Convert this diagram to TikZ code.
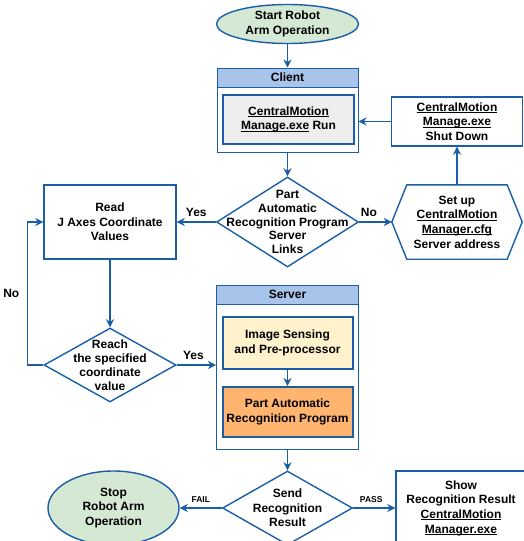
\documentclass[tikz,border=0pt]{standalone}
\usepackage{fontspec}
\setmainfont{Liberation Sans}
\usetikzlibrary{shapes.geometric,arrows.meta}
\definecolor{lineblue}{HTML}{1A5EA8}
\definecolor{hdrblue}{HTML}{A9C4EB}
\definecolor{startgreen}{HTML}{D5E8D4}
\definecolor{rungray}{HTML}{EEEEEE}
\definecolor{imgyellow}{HTML}{FFF2CC}
\definecolor{partorange}{HTML}{FFB570}
\newcommand{\ulin}[1]{\setbox0\hbox{#1}\rlap{\rule[-1.8pt]{\wd0}{0.8pt}}\box0\relax}
\tikzset{
 box/.style={draw=lineblue,line width=1.4pt,align=center,inner sep=0pt},
 inbox/.style={draw=lineblue,line width=2pt,align=center,inner sep=0pt},
 frame/.style={draw=lineblue,line width=1pt,inner sep=0pt},
 hdr/.style={draw=lineblue,line width=1pt,fill=hdrblue,inner sep=0pt},
 dia/.style={diamond,draw=lineblue,line width=1.4pt,inner sep=0pt},
 txt/.style={align=center,inner sep=0pt},
 arr/.style={draw=lineblue,line width=1.4pt,-{Stealth[length=8pt,width=8pt,inset=2.5pt]}},
 tiny/.style={font=\bfseries\fontsize{8.5}{9}\selectfont}
}
\begin{document}
\begin{tikzpicture}[x=1pt,y=-1pt,font=\bfseries\fontsize{12}{14.7}\selectfont]
\useasboundingbox (0,0) rectangle (524,541);

\node (start) at (287.5,24) [box,ellipse,fill=startgreen,minimum width=142pt,minimum height=39pt]{Start Robot\\Arm Operation};

\node (client) at (287.5,110) [frame,minimum width=141pt,minimum height=84pt]{};
\node (clienthd) at (287.5,77.5) [hdr,minimum width=141pt,minimum height=19pt]{Client};
\node (run) at (288.5,119.5) [inbox,fill=rungray,minimum width=131pt,minimum height=49pt]{\ulin{CentralMotion}\\\ulin{Manage.exe} Run};

\node (shut) at (457,121.5) [box,minimum width=131pt,minimum height=49pt]{\ulin{CentralMotion}\\\ulin{Manage.exe}\\Shut Down};

\node (q1) at (287.5,222) [dia,minimum width=142pt,minimum height=90pt]{};
\node (q1txt) at (q1) [txt,font=\bfseries\fontsize{12}{13.6}\selectfont]{Part\\Automatic\\Recognition Program\\Server\\Links};

\node (read) at (110,222) [box,minimum width=132pt,minimum height=74pt]{Read\\J Axes Coordinate\\Values};

\node (cfg) at (457,222) [txt,minimum width=130pt,minimum height=74pt]{Set up\\\ulin{CentralMotion}\\\ulin{Manager.cfg}\\Server address};
\draw[lineblue,line width=1.4pt] (cfg.west)--([xshift=15pt]cfg.north west)--([xshift=-15pt]cfg.north east)
 --(cfg.east)--([xshift=-15pt]cfg.south east)--([xshift=15pt]cfg.south west)--cycle;

\node (q2) at (110,365) [dia,minimum width=132pt,minimum height=74pt]{};
\node (q2txt) at (q2) [txt,font=\bfseries\fontsize{12}{14}\selectfont]{Reach\\the specified\\coordinate\\value};

\node (server) at (287.5,367) [frame,minimum width=142pt,minimum height=164pt]{};
\node (serverhd) at (287.5,294.5) [hdr,minimum width=142pt,minimum height=19pt]{Server};
\node (img) at (287.5,343) [inbox,fill=imgyellow,minimum width=130pt,minimum height=52pt]{Image Sensing\\and Pre-processor};
\node (part) at (287.5,412) [inbox,fill=partorange,minimum width=130pt,minimum height=50pt]{Part Automatic\\Recognition Program};

\node (q3) at (287.5,508) [dia,minimum width=130pt,minimum height=74pt]{};
\node (q3txt) at (q3) [txt]{Send\\Recognition\\Result};
\node (stop) at (113.5,508) [box,ellipse,fill=startgreen,minimum width=131pt,minimum height=74pt]{Stop\\Robot Arm\\Operation};
\node (show) at (461,508) [box,minimum width=130pt,minimum height=74pt]{Show\\Recognition Result\\\ulin{CentralMotion}\\\ulin{Manager.exe}};

\draw[arr] (start.south)--(clienthd.north);
\draw[arr] (shut.west)--(shut.west -| client.east);
\draw[arr] (client.south)--(q1.north);
\draw[arr] (q1.west)--(read.east) node[midway,above,yshift=1pt] (yes1){Yes};
\draw[arr] (q1.east)--(cfg.west) node[pos=.3,above,yshift=1pt] (no1){No};
\draw[arr] (cfg.north)--(shut.south);
\draw[arr] (read.south)--(q2.north);
\draw[arr] (q2.west)--++(-16,0) |- (read.west) node[pos=.25,left,xshift=-4pt] (no2){No};
\draw[arr] (q2.east)--(q2.east -| server.west) node[midway,above,yshift=1pt,xshift=-3pt] (yes2){Yes};
\draw[arr] (img.south)--(part.north);
\draw[arr] (server.south)--(q3.north);
\draw[arr] (q3.west)--(stop.east) node[midway,above,tiny,yshift=1pt] (fail){FAIL};
\draw[arr] (q3.east)--(show.west) node[midway,above,tiny,yshift=1pt,xshift=-3pt] (pass){PASS};

\end{tikzpicture}
\end{document}
